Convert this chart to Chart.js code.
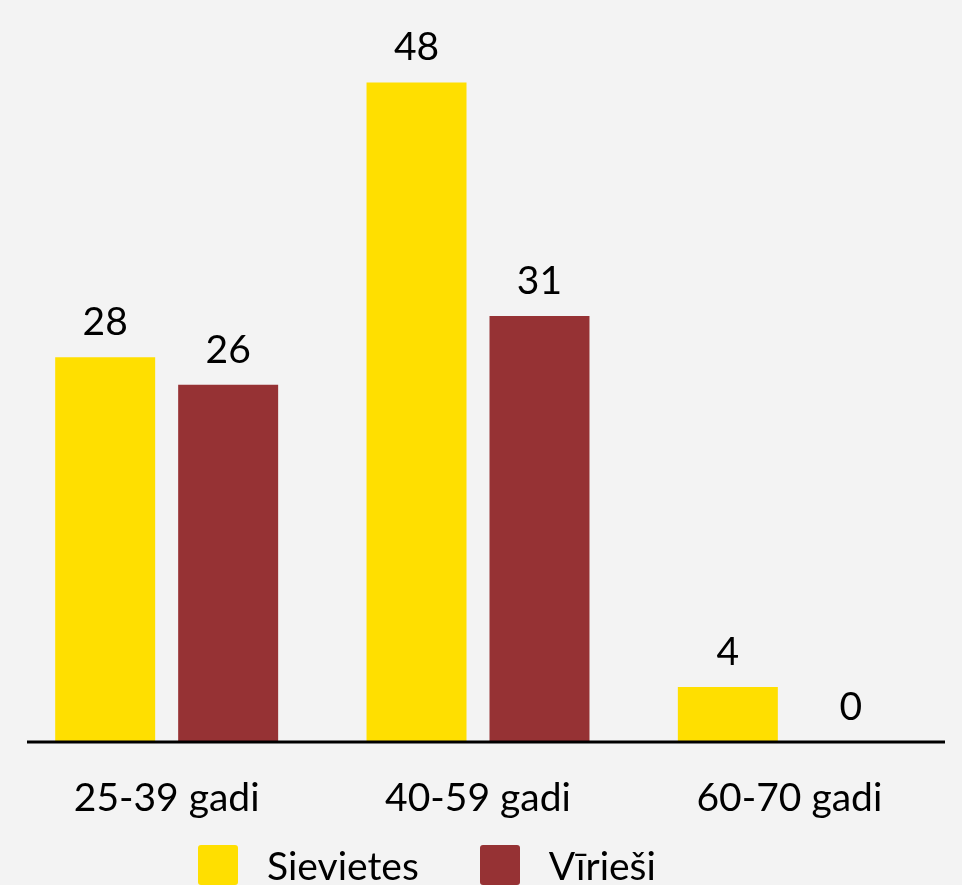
<!DOCTYPE html>
<html>
<head>
<meta charset="utf-8">
<script src="https://cdn.jsdelivr.net/npm/chart.js@4"></script>
<style>
  html, body { margin: 0; padding: 0; background: #f3f3f3; overflow: hidden; }
  #wrap { position: relative; width: 962px; height: 885px; }
  #legenda { position: absolute; left: 198px; top: 845px; display: flex; align-items: center;
             font-family: Lato; font-size: 39px; line-height: 40px; color: #000; white-space: nowrap; }
  #legenda .kaste { width: 40px; height: 40px; border-radius: 3px; margin-right: 29px; }
  #legenda .teksts { margin-right: 61px; }
</style>
</head>
<body>
<div id="wrap">
  <canvas id="grafiks"></canvas>
  <div id="legenda"></div>
</div>
<script>
// dati
const vecumaGrupas = ['25-39 gadi', '40-59 gadi', '60-70 gadi'];
const sievietes = [28, 48, 4];
const virieši = [26, 31, 0];
const serijuNosaukumi = ['Sievietes', 'Vīrieši'];
const krasas = ['#ffdf00', '#963234'];

// skaitļi virs stabiņiem
const vertibuUzraksti = {
    id: 'vertibuUzraksti',
    afterDatasetsDraw(chart) {
        const ctx = chart.ctx;
        ctx.save();
        ctx.font = '39px Lato';
        ctx.fillStyle = '#000';
        ctx.textAlign = 'center';
        ctx.textBaseline = 'alphabetic';
        chart.data.datasets.forEach((ds, i) => {
            chart.getDatasetMeta(i).data.forEach((bar, j) => {
                ctx.fillText(ds.data[j], bar.x, bar.y - 22);
            });
        });
        ctx.restore();
    }
};

// x ass līnija
const assLinija = {
    id: 'assLinija',
    afterDatasetsDraw(chart) {
        const ctx = chart.ctx;
        const a = chart.chartArea;
        ctx.save();
        ctx.strokeStyle = '#000';
        ctx.lineWidth = 3;
        ctx.beginPath();
        ctx.moveTo(27, a.bottom);
        ctx.lineTo(a.right, a.bottom);
        ctx.stroke();
        ctx.restore();
    }
};

// leģenda kā HTML, no grafika datiem
function veidotLegendu(chart) {
    const el = document.getElementById('legenda');
    el.innerHTML = '';
    chart.options.plugins.legend.labels.generateLabels(chart).forEach(item => {
        const kaste = document.createElement('span');
        kaste.className = 'kaste';
        kaste.style.background = item.fillStyle;
        const teksts = document.createElement('span');
        teksts.className = 'teksts';
        teksts.textContent = item.text;
        el.appendChild(kaste);
        el.appendChild(teksts);
    });
}

document.addEventListener('DOMContentLoaded', function () {
    const ctx = document.getElementById('grafiks').getContext('2d');
    const grafiks = new Chart(ctx, {
        type: 'bar',
        data: {
            labels: vecumaGrupas,
            datasets: [{
                label: serijuNosaukumi[0],
                data: sievietes,
                backgroundColor: krasas[0]
            }, {
                label: serijuNosaukumi[1],
                data: virieši,
                backgroundColor: krasas[1]
            }]
        },
        options: {
            responsive: true,
            maintainAspectRatio: false,
            animation: false,
            categoryPercentage: 0.79,
            barPercentage: 0.813,
            layout: { padding: { left: 11, right: 17, top: 0, bottom: 0 } },
            scales: {
                x: {
                    grid: { display: false },
                    border: { display: false },
                    ticks: { color: '#000', font: { family: 'Lato', size: 39 }, padding: 25 },
                    afterFit(s) { s.height = 143; }
                },
                y: {
                    display: false,
                    min: 0,
                    max: 54
                }
            },
            plugins: {
                legend: { display: false },
                tooltip: { enabled: false }
            }
        },
        plugins: [vertibuUzraksti, assLinija]
    });
    veidotLegendu(grafiks);
});
</script>
</body>
</html>
